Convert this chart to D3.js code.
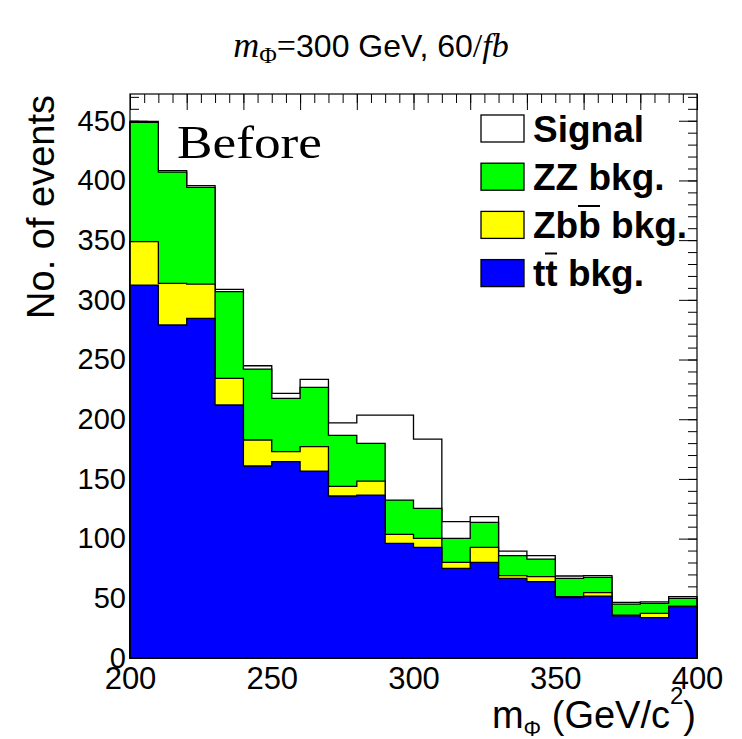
<!DOCTYPE html>
<html>
<head>
<meta charset="utf-8">
<script src="https://cdn.jsdelivr.net/npm/d3@7"></script>
<style>
  body { margin: 0; background: #fff; }
  svg { display: block; }
</style>
</head>
<body>
<div id="chart"></div>
<script>
//  data : 20 bins of 10 GeV, events per component (stacked bottom -> top)
var BIN_EDGES = d3.range(200, 400, 10);
var TT    = [312.4, 278.9, 284.5, 211.9, 160.8, 164.4, 156.6, 135.7, 136.5, 96.0, 92.7, 75.1, 80.1, 66.7, 63.9, 50.5, 51.9, 35.3, 33.8, 43.0];
var ZBB   = [36.3, 34.9, 28.7, 22.3, 21.8, 8.4, 20.4, 8.1, 11.7, 7.6, 7.5, 5.0, 12.6, 2.3, 4.2, 0.9, 2.8, 0.5, 3.6, 0.5];
var ZZ    = [99.9, 93.2, 81.0, 72.6, 59.4, 44.7, 49.7, 42.7, 31.6, 28.7, 25.2, 20.1, 20.9, 16.7, 14.8, 15.3, 12.9, 9.4, 8.4, 6.5];
var SIG   = [0.9, 1.3, 1.4, 2.0, 2.8, 4.2, 6.7, 10.5, 23.7, 71.2, 58.0, 14.0, 4.8, 3.9, 2.8, 2.0, 1.4, 1.4, 1.2, 1.4];

var X_LABELS = [200, 250, 300, 350, 400];
var Y_LABELS = d3.range(0, 451, 50);
var LEGEND = [
  {key: "sig", label: "Signal",   color: "#ffffff"},
  {key: "zz",  label: "ZZ bkg.",  color: "#00ff00"},
  {key: "zbb", label: "Zbb bkg.", color: "#ffff00"},
  {key: "tt",  label: "tt bkg.",  color: "#0000ff"}
];

//  main
function main() {
  const w = 742, h = 739;
  const margin = ({top: 94, right: 45, bottom: 81, left: 130});
  const sans = "'Liberation Sans', Arial, Helvetica, sans-serif";
  const serif = "'Liberation Serif', 'Times New Roman', serif";

  const svg = d3.select("#chart").append("svg").attr("width", w).attr("height", h);

  const x = d3.scaleLinear().domain([200, 400]).range([margin.left, w - margin.right]);
  const y = d3.scaleLinear().domain([0, 472.4]).range([h - margin.bottom, margin.top]);

  const rows = BIN_EDGES.map((b, i) => ({x0: b, x1: b + 10, tt: TT[i], zbb: ZBB[i], zz: ZZ[i], sig: SIG[i]}));
  const stack = d3.stack().keys(["tt", "zbb", "zz", "sig"])(rows);

  //  ticks (drawn first, the filled histograms hide them)
  const tickAxis = (axis, vals, size, tr) => {
    svg.append("g").attr("transform", tr)
      .call(axis.tickValues(vals).tickSize(size).tickFormat(""))
      .call(g => g.select(".domain").remove())
      .selectAll("line").attr("stroke", "#000").attr("stroke-width", 1);
  };
  const yMinor = d3.range(0, 471, 10), yMajor = d3.range(0, 451, 50);
  const xTopMinor = d3.range(200, 401, 5), xTopMajor = d3.range(200, 401, 20);
  const xBotMinor = d3.range(200, 401, 10), xBotMajor = d3.range(200, 401, 50);
  tickAxis(d3.axisRight(y), yMinor, 9, `translate(${margin.left},0)`);
  tickAxis(d3.axisRight(y), yMajor, 18, `translate(${margin.left},0)`);
  tickAxis(d3.axisLeft(y), yMinor, 9, `translate(${w - margin.right},0)`);
  tickAxis(d3.axisLeft(y), yMajor, 18, `translate(${w - margin.right},0)`);
  tickAxis(d3.axisBottom(x), xTopMinor, 9, `translate(0,${margin.top})`);
  tickAxis(d3.axisBottom(x), xTopMajor, 16, `translate(0,${margin.top})`);
  tickAxis(d3.axisTop(x), xBotMinor, 9, `translate(0,${h - margin.bottom})`);
  tickAxis(d3.axisTop(x), xBotMajor, 16, `translate(0,${h - margin.bottom})`);

  //  stacked histograms, top layer first
  const line = d3.line().x(d => x(d[0])).y(d => y(d[1]));
  const colorOf = k => LEGEND.find(l => l.key == k).color;
  stack.slice().reverse().forEach(layer => {
    const pts = [[200, 0]];
    layer.forEach(d => { pts.push([d.data.x0, d[1]]); pts.push([d.data.x1, d[1]]); });
    pts.push([400, 0]);
    svg.append("path")
      .attr("d", line(pts) + "Z")
      .attr("fill", colorOf(layer.key))
      .attr("stroke", "#000")
      .attr("stroke-width", 1.3)
      .attr("stroke-linejoin", "miter");
  });

  //  frame
  svg.append("rect")
    .attr("x", margin.left).attr("y", margin.top)
    .attr("width", w - margin.left - margin.right)
    .attr("height", h - margin.top - margin.bottom)
    .attr("fill", "none").attr("stroke", "#000").attr("stroke-width", 1.2);

  //  tick labels
  svg.append("g").attr("transform", `translate(0,${h - margin.bottom})`)
    .call(d3.axisBottom(x).tickValues(X_LABELS).tickSize(0).tickPadding(9).tickFormat(d3.format("d")))
    .call(g => g.select(".domain").remove())
    .selectAll("text").style("font-family", sans).style("font-size", "31px").attr("fill", "#000");

  svg.append("g").attr("transform", `translate(${margin.left},0)`)
    .call(d3.axisLeft(y).tickValues(Y_LABELS).tickSize(0).tickPadding(4).tickFormat(d3.format("d")))
    .call(g => g.select(".domain").remove())
    .selectAll("text").style("font-family", sans).style("font-size", "29px").attr("fill", "#000");

  //  axis titles
  svg.append("text")
    .attr("transform", `translate(54,${margin.top + 1}) rotate(-90)`)
    .attr("text-anchor", "end")
    .style("font-family", sans).style("font-size", "38px")
    .text("No. of events");

  const xt = svg.append("text")
    .attr("x", w - margin.right - 1).attr("y", 728)
    .attr("text-anchor", "end")
    .style("font-family", sans).style("font-size", "38px");
  xt.append("tspan").text("m");
  xt.append("tspan").attr("dy", 8).style("font-size", "22px").text("Φ");
  xt.append("tspan").attr("dy", -8).text(" (GeV/c");
  xt.append("tspan").attr("dy", -24).style("font-size", "24px").text("2");
  xt.append("tspan").attr("dy", 24).text(")");

  //  title
  const tt = svg.append("text")
    .attr("x", 371).attr("y", 57)
    .attr("text-anchor", "middle")
    .style("font-size", "32px");
  tt.append("tspan").style("font-family", serif).style("font-style", "italic").style("font-size", "36px").text("m");
  tt.append("tspan").attr("dy", 6).style("font-family", serif).style("font-size", "24px").text("Φ");
  tt.append("tspan").attr("dy", -6).style("font-family", serif).style("font-size", "34px").text("=");
  tt.append("tspan").style("font-family", sans).text("300 GeV, 60");
  tt.append("tspan").style("font-family", serif).style("font-size", "34px").text("/");
  tt.append("tspan").style("font-family", serif).style("font-style", "italic").style("font-size", "34px").text("fb");

  //  "Before"
  svg.append("text")
    .attr("x", 177).attr("y", 158)
    .attr("textLength", 145).attr("lengthAdjust", "spacingAndGlyphs")
    .style("font-family", serif).style("font-size", "47px")
    .text("Before");

  //  legend
  const lg = svg.append("g");
  LEGEND.forEach((l, i) => {
    const top = 115 + i * 48.2;
    lg.append("rect")
      .attr("x", 481).attr("y", top).attr("width", 43).attr("height", 27)
      .attr("fill", l.color).attr("stroke", "#000").attr("stroke-width", 1.3);
    lg.append("text")
      .attr("x", 533).attr("y", top + 26.5)
      .style("font-family", sans).style("font-size", "37px").style("font-weight", "bold")
      .text(l.label);
  });
  // bars over the anti-quarks (b-bar, t-bar)
  lg.append("line").attr("x1", 578).attr("x2", 600).attr("y1", 206).attr("y2", 206)
    .attr("stroke", "#000").attr("stroke-width", 2);
  lg.append("line").attr("x1", 545).attr("x2", 557).attr("y1", 253.5).attr("y2", 253.5)
    .attr("stroke", "#000").attr("stroke-width", 2);
}

main();
</script>
</body>
</html>
